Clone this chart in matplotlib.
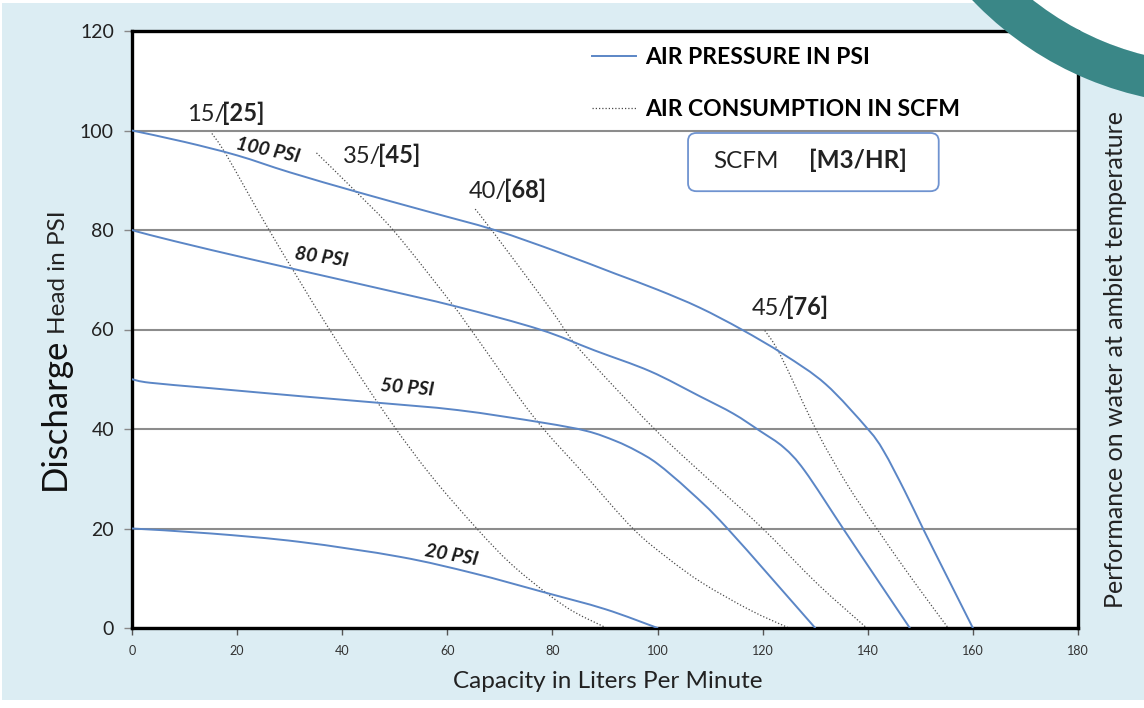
import matplotlib
matplotlib.use("Agg")
import matplotlib.pyplot as plt
from matplotlib.patches import Rectangle, Circle, Wedge, FancyBboxPatch, PathPatch
from matplotlib.lines import Line2D
from matplotlib.path import Path
from matplotlib.transforms import IdentityTransform

plt.rcParams['font.family'] = ['Lato', 'DejaVu Sans']

# ---------------- data ----------------
x_ticks = [0, 20, 40, 60, 80, 100, 120, 140, 160, 180]
y_ticks = [0, 20, 40, 60, 80, 100, 120]

psi_names = ['100 PSI', '80 PSI', '50 PSI', '20 PSI']
psi100_x = [0, 10, 20, 30, 43, 56, 69, 81, 92, 100, 108, 116, 124, 132, 140, 143, 147, 150.5, 155, 160]
psi100_y = [100, 97.7, 95, 91.6, 87.6, 83.8, 80, 75.6, 71.2, 68, 64.4, 60, 55, 49, 40, 35.6, 27.6, 20, 10.5, 0]
psi80_x = [0, 3.4, 15, 30.6, 46, 61.8, 77.6, 88, 98.6, 108, 114.4, 119.5, 124, 128, 135.3, 141, 148]
psi80_y = [80, 79, 76, 72.2, 68.5, 64.6, 60, 55.8, 51.6, 46.6, 43.1, 39.6, 36.3, 31.6, 20, 11, 0]
psi50_x = [0, 3.4, 15, 32, 46.5, 62, 78, 86.5, 92, 96, 100, 106, 113.3, 130]
psi50_y = [50, 49.3, 48.2, 46.6, 45.3, 43.8, 41.3, 39.6, 37.6, 35.6, 33, 27.6, 20, 0]
psi20_x = [0, 15, 32, 51, 65, 78, 90, 100]
psi20_y = [20, 19, 17.3, 14.3, 11, 7.3, 3.8, 0]

scfm_names = ['15/', '35/', '40/', '45/']
m3hr_names = ['[25]', '[45]', '[68]', '[76]']
c15_x = [15.2, 18, 26.3, 37.7, 48.7, 57, 65.6, 72, 78.9, 84, 90.3]
c15_y = [99.4, 95, 79.6, 59.8, 42.3, 30.5, 20, 13, 7, 3.3, 0]
c35_x = [35.1, 42.7, 50, 61, 64.6, 76.3, 86, 95.3, 102, 108.6, 117.6, 125]
c35_y = [95.5, 87.6, 79.6, 65, 59.8, 42.6, 31, 20, 14, 9, 3.6, 0]
c40_x = [65.3, 68.7, 79.5, 83.9, 89, 99.8, 110, 120, 130.3, 139.8]
c40_y = [84.2, 79.6, 64.3, 57.6, 51.6, 39.6, 29.6, 20, 9, 0]
c45_x = [120.4, 123.3, 130.3, 136, 141.7, 148.6, 155.3]
c45_y = [59.8, 55, 39.6, 29, 20, 9.6, 0]


def smooth_path(xs, ys):
    """Smoothed (Excel-style) line through the given points as cubic Bezier path."""
    pts = list(zip(xs, ys))
    n = len(pts)
    verts = [pts[0]]
    codes = [Path.MOVETO]
    for i in range(n - 1):
        p0 = pts[i - 1] if i > 0 else pts[i]
        p1 = pts[i]
        p2 = pts[i + 1]
        p3 = pts[i + 2] if i + 2 < n else pts[i + 1]
        c1 = (p1[0] + (p2[0] - p0[0]) / 6, p1[1] + (p2[1] - p0[1]) / 6)
        c2 = (p2[0] - (p3[0] - p1[0]) / 6, p2[1] - (p3[1] - p1[1]) / 6)
        verts += [c1, c2, p2]
        codes += [Path.CURVE4] * 3
    return Path(verts, codes)


# ---------------- figure ----------------
W, H = 1144, 708
fig = plt.figure(figsize=(W / 100, H / 100), dpi=100)
fig.patch.set_facecolor('white')
bg = Rectangle((2 / W, 8 / H), 1, (700 - 3) / H, transform=fig.transFigure,
               facecolor='#dcedf3', edgecolor='none', zorder=-10)
fig.patches.append(bg)

ax = fig.add_axes([132 / W, 1 - 628 / H, (1078 - 132) / W, (628 - 31) / H])
ax.set_facecolor('white')

blue = '#5b86c6'
dotc = '#4a4a4a'
dot_style = (0, (1, 1.6))
psi_series = [(psi100_x, psi100_y), (psi80_x, psi80_y), (psi50_x, psi50_y), (psi20_x, psi20_y)]
scfm_series = [(c15_x, c15_y), (c35_x, c35_y), (c40_x, c40_y), (c45_x, c45_y)]

for (xs, ys) in psi_series:
    ax.add_patch(PathPatch(smooth_path(xs, ys), fill=False, edgecolor=blue, lw=1.4,
                           zorder=3, capstyle='round'))
for (xs, ys) in scfm_series:
    ax.add_patch(PathPatch(smooth_path(xs, ys), fill=False, edgecolor=dotc, lw=0.9,
                           ls=dot_style, zorder=2))

ax.set_xlim(0, 180)
ax.set_ylim(0, 120)
ax.set_xticks(x_ticks)
ax.set_yticks(y_ticks)
ax.set_xticklabels([str(v) for v in x_ticks])
ax.set_yticklabels([str(v) for v in y_ticks])
ax.yaxis.grid(True, color='#8c8c8c', lw=1.5)
ax.set_axisbelow(True)
for s in ax.spines.values():
    s.set_linewidth(2.4)
    s.set_color('black')
ax.tick_params(axis='y', direction='out', length=6, width=1, color='#888888',
               labelsize=14, labelcolor='#222222', pad=7)
ax.tick_params(axis='x', direction='out', length=5, width=1, color='#555555',
               labelsize=9, labelcolor='#333333', pad=7)

# PSI curve labels
psi_label_pos = [(25.9, 96.1, -12), (36.1, 74.6, -8), (52.3, 48.2, -5), (60.7, 14.7, -10)]
for name, (lx, ly, rot) in zip(psi_names, psi_label_pos):
    ax.text(lx, ly, name, fontsize=14, fontweight='bold', fontstyle='italic',
            color='#1a1a1a', ha='center', va='center', rotation=rot, zorder=5)

# consumption labels
scfm_label_pos = [(17.5, 102), (47.2, 93.5), (71, 86.4), (124.8, 62.9)]
for a, b, (lx, ly) in zip(scfm_names, m3hr_names, scfm_label_pos):
    ax.text(lx + 0.3, ly, a, fontsize=17, color='#222222', ha='right', va='baseline', zorder=5)
    ax.text(lx - 0.3, ly, b, fontsize=17, color='#222222', fontweight='bold', ha='left',
            va='baseline', zorder=5)

# SCFM [M3/HR] box
box = FancyBboxPatch((105.8, 87.8), 153.5 - 105.8, 99.5 - 87.8,
                     boxstyle='round,pad=0,rounding_size=1.6',
                     facecolor='white', edgecolor='#6f93d0', lw=1.3, zorder=4)
ax.add_patch(box)
ax.text(110.5, 92.4, 'SCFM', fontsize=17.5, color='#222222', ha='left', va='baseline', zorder=5)
ax.text(128.8, 92.4, '[M3/HR]', fontsize=17.5, color='#222222', fontweight='bold',
        ha='left', va='baseline', zorder=5)

# legend
leg = ax.legend([Line2D([], [], color=blue, lw=1.4),
                 Line2D([], [], color=dotc, lw=0.9, ls=dot_style)],
                ['AIR PRESSURE IN PSI', 'AIR CONSUMPTION IN SCFM'],
                loc='upper left', bbox_to_anchor=((592 - 132) / 946, (628 - 47) / 597),
                frameon=False, borderpad=0, borderaxespad=0, handlelength=1.9,
                handletextpad=0.42, labelspacing=1.36,
                prop={'weight': 'bold', 'size': 16.5})
leg.set_zorder(6)

# axis labels
fig.text(608 / W, 1 - 682 / H, 'Capacity in Liters Per Minute', fontsize=17.5,
         color='#222222', ha='center', va='center')
fig.text(65 / W, 1 - 490 / H, 'Discharge', fontsize=25, color='#111111', rotation=90,
         rotation_mode='anchor', ha='left', va='baseline')
fig.text(65 / W, 1 - 334 / H, 'Head in PSI', fontsize=17.5, color='#222222', rotation=90,
         rotation_mode='anchor', ha='left', va='baseline')
fig.text(1123 / W, 1 - 360 / H, 'Performance on water at ambiet temperature', fontsize=18,
         color='#222222', rotation=90, rotation_mode='anchor', ha='center', va='baseline')

# teal decorative ring (top right)
cx, cy = 1217, H + 233
disk = Circle((cx, cy), 297, transform=IdentityTransform(), facecolor='white',
              edgecolor='none', zorder=20)
ring = Wedge((cx, cy), 338, 0, 360, width=41, transform=IdentityTransform(),
             facecolor='#3a8787', edgecolor='none', zorder=21)
fig.patches.append(disk)
fig.patches.append(ring)

fig.savefig('out.png', dpi=100)
